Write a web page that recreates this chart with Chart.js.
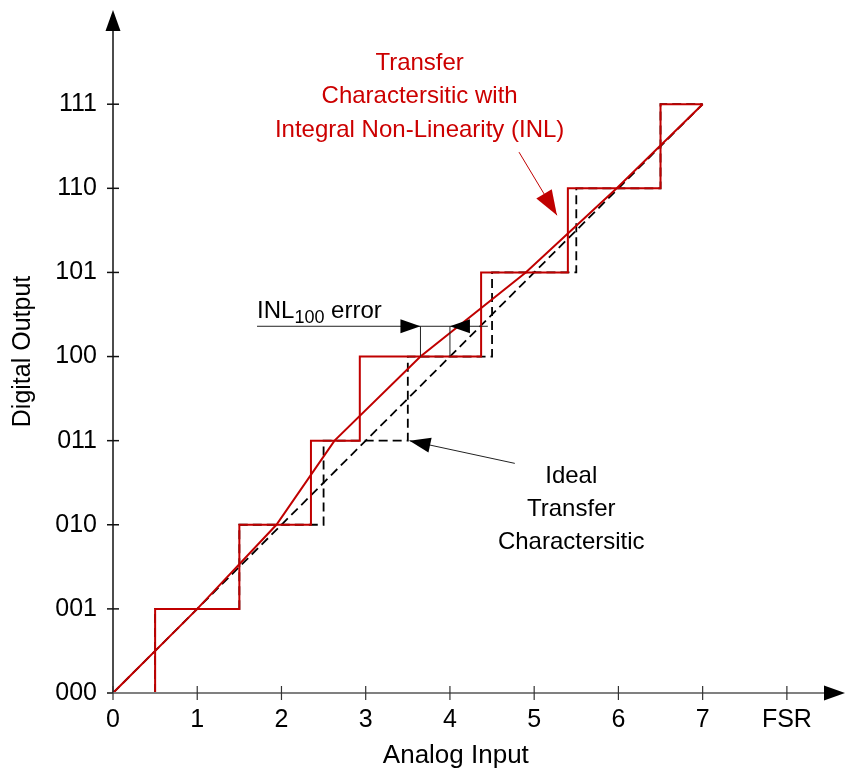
<!DOCTYPE html>
<html>
<head>
<meta charset="utf-8">
<title>INL Transfer Characteristic</title>
<script src="https://cdn.jsdelivr.net/npm/chart.js@4.4.1/dist/chart.umd.min.js"></script>
<style>
  html, body { margin: 0; padding: 0; background: #fff; }
  #wrap { width: 846px; height: 774px; }
</style>
</head>
<body>
<div id="wrap"><canvas id="inl-chart" width="846" height="774"></canvas></div>
<script>
// axis labels
const codeLabels = ['000', '001', '010', '011', '100', '101', '110', '111'];
const inputTicks = [0, 1, 2, 3, 4, 5, 6, 7, 8];
const inputLabels = ['0', '1', '2', '3', '4', '5', '6', '7', 'FSR'];
const codeTicks = [0, 1, 2, 3, 4, 5, 6, 7];

// code transition points (analog input where output steps up)
const idealTransitions = [0.5, 1.5, 2.5, 3.5, 4.5, 5.5, 6.5];
const inlTransitions = [0.5, 1.5, 2.35, 2.93, 4.37, 5.4, 6.5];
const stairEnd = 7;

// straight-line fits through step midpoints
const idealLineX = [0, 7];
const idealLineY = [0, 7];
const inlCurveX = [0, 1, 1.94, 2.63, 3.65, 4.9, 5.98, 7];
const inlCurveY = [0, 1, 2, 3, 4, 5, 6, 7];

const RED = '#c00000';
const FONT = '"Liberation Sans", Arial, sans-serif';

function staircase(trans, endX) {
  const pts = [{ x: 0, y: 0 }];
  trans.forEach((t, i) => {
    pts.push({ x: t, y: i });
    pts.push({ x: t, y: i + 1 });
  });
  pts.push({ x: endX, y: trans.length });
  return pts;
}
function zipXY(xs, ys) {
  return xs.map((x, i) => ({ x: x, y: ys[i] }));
}

function arrowHead(ctx, x1, y1, x2, y2, len, half, color) {
  const a = Math.atan2(y2 - y1, x2 - x1);
  ctx.save();
  ctx.fillStyle = color;
  ctx.beginPath();
  ctx.moveTo(x2, y2);
  ctx.lineTo(x2 - len * Math.cos(a) + half * Math.sin(a), y2 - len * Math.sin(a) - half * Math.cos(a));
  ctx.lineTo(x2 - len * Math.cos(a) - half * Math.sin(a), y2 - len * Math.sin(a) + half * Math.cos(a));
  ctx.closePath();
  ctx.fill();
  ctx.restore();
}

// axes with arrows, tick marks and the annotations
const decorPlugin = {
  id: 'decor',
  afterDatasetsDraw(chart) {
    const ctx = chart.ctx;
    const xs = chart.scales.x, ys = chart.scales.y;
    const px = v => xs.getPixelForValue(v);
    const py = v => ys.getPixelForValue(v);
    const ox = px(0), oy = py(0);
    const area = chart.chartArea;

    ctx.save();
    // y axis
    ctx.strokeStyle = '#111';
    ctx.lineWidth = 1.5;
    ctx.beginPath();
    ctx.moveTo(ox, oy);
    ctx.lineTo(ox, area.top + 18);
    ctx.stroke();
    arrowHead(ctx, ox, oy, ox, area.top, 21, 7.5, '#000');
    codeTicks.forEach(v => {
      ctx.beginPath();
      ctx.moveTo(ox - 6, py(v));
      ctx.lineTo(ox + 6, py(v));
      ctx.stroke();
    });
    // x axis
    ctx.strokeStyle = '#808080';
    ctx.lineWidth = 2;
    ctx.beginPath();
    ctx.moveTo(ox, oy);
    ctx.lineTo(area.right - 18, oy);
    ctx.stroke();
    arrowHead(ctx, ox, oy, area.right, oy, 21, 7.5, '#000');
    ctx.strokeStyle = '#333';
    ctx.lineWidth = 1.2;
    inputTicks.forEach(v => {
      ctx.beginPath();
      ctx.moveTo(px(v), oy - 7);
      ctx.lineTo(px(v), oy + 7);
      ctx.stroke();
    });

    // x axis title (centred under the plot, not under the arrow)
    ctx.fillStyle = '#000';
    ctx.textAlign = 'center';
    ctx.textBaseline = 'middle';
    ctx.font = '26px ' + FONT;
    ctx.fillText('Analog Input', px(4.07), oy + 63);

    // INL100 error marker
    const errY = 4.36;
    ctx.strokeStyle = '#222';
    ctx.lineWidth = 1;
    ctx.beginPath();
    ctx.moveTo(px(1.71), py(errY));
    ctx.lineTo(px(4.45), py(errY));
    ctx.moveTo(px(inlCurveX[4]), py(4));
    ctx.lineTo(px(inlCurveX[4]), py(errY));
    ctx.moveTo(px(4), py(4));
    ctx.lineTo(px(4), py(errY));
    ctx.stroke();
    arrowHead(ctx, px(1.71), py(errY), px(inlCurveX[4]), py(errY), 20, 7, '#000');
    arrowHead(ctx, px(4.45), py(errY), px(4), py(errY), 20, 7, '#000');

    ctx.textBaseline = 'alphabetic';
    ctx.textAlign = 'left';
    let tx = px(1.71);
    const ty = py(4.46);
    ctx.font = '24px ' + FONT;
    ctx.fillText('INL', tx, ty);
    tx += ctx.measureText('INL').width;
    ctx.font = '18px ' + FONT;
    ctx.fillText('100', tx, ty + 5);
    tx += ctx.measureText('100').width;
    ctx.font = '24px ' + FONT;
    ctx.fillText(' error', tx, ty);

    // ideal characteristic label
    ctx.strokeStyle = '#222';
    ctx.lineWidth = 1;
    ctx.beginPath();
    ctx.moveTo(px(4.77), py(2.73));
    ctx.lineTo(px(3.52), py(3.0));
    ctx.stroke();
    arrowHead(ctx, px(4.77), py(2.73), px(3.52), py(3.0), 21, 7.5, '#000');
    ctx.textAlign = 'center';
    ctx.textBaseline = 'middle';
    ctx.font = '24px ' + FONT;
    ['Ideal', 'Transfer', 'Charactersitic'].forEach((s, i) => {
      ctx.fillText(s, px(5.44), py(2.57) + i * 33);
    });

    // INL characteristic label
    ctx.strokeStyle = RED;
    ctx.lineWidth = 1;
    ctx.beginPath();
    ctx.moveTo(px(4.82), py(6.43));
    ctx.lineTo(px(5.27), py(5.68));
    ctx.stroke();
    arrowHead(ctx, px(4.82), py(6.43), px(5.27), py(5.68), 25, 9, RED);
    ctx.fillStyle = '#cc0000';
    ['Transfer', 'Charactersitic with', 'Integral Non-Linearity (INL)'].forEach((s, i) => {
      ctx.fillText(s, px(3.64), py(7.5) + 1 + i * 33.5);
    });
    ctx.restore();
  }
};

new Chart(document.getElementById('inl-chart'), {
  type: 'scatter',
  data: {
    datasets: [
      {
        label: 'Ideal line',
        data: zipXY(idealLineX, idealLineY),
        showLine: true,
        borderColor: '#000',
        borderWidth: 1.8,
        borderDash: [9, 5],
        pointRadius: 0,
        order: 4
      },
      {
        label: 'Ideal transfer',
        data: staircase(idealTransitions, stairEnd),
        showLine: true,
        borderColor: '#000',
        borderWidth: 1.8,
        borderDash: [9, 5],
        pointRadius: 0,
        order: 3
      },
      {
        label: 'INL curve',
        data: zipXY(inlCurveX, inlCurveY),
        showLine: true,
        borderColor: RED,
        borderWidth: 2,
        pointRadius: 0,
        order: 2
      },
      {
        label: 'INL transfer',
        data: staircase(inlTransitions, stairEnd),
        showLine: true,
        borderColor: RED,
        borderWidth: 2,
        pointRadius: 0,
        order: 1
      }
    ]
  },
  options: {
    responsive: false,
    animation: false,
    layout: { padding: { top: 10, right: 1, left: 0, bottom: 0 } },
    plugins: {
      legend: { display: false },
      tooltip: { enabled: false }
    },
    scales: {
      x: {
        type: 'linear',
        min: 0,
        max: 8.69,
        grid: { display: false, drawTicks: false },
        border: { display: false },
        afterBuildTicks: s => { s.ticks = inputTicks.map(v => ({ value: v })); },
        afterFit: s => { s.height = 81; s.paddingLeft = 0; s.paddingRight = 0; },
        ticks: {
          autoSkip: false,
          maxRotation: 0,
          padding: 12,
          color: '#000',
          font: { family: FONT, size: 25 },
          callback: (v) => inputLabels[inputTicks.indexOf(v)]
        },
        title: { display: false }
      },
      y: {
        type: 'linear',
        min: 0,
        max: 8.12,
        grid: { display: false, drawTicks: false },
        border: { display: false },
        afterBuildTicks: s => { s.ticks = codeTicks.map(v => ({ value: v })); },
        afterFit: s => { s.width = 113; s.paddingTop = 0; s.paddingBottom = 0; },
        ticks: {
          autoSkip: false,
          padding: 16,
          color: '#000',
          font: { family: FONT, size: 25 },
          callback: (v) => codeLabels[codeTicks.indexOf(v)]
        },
        title: {
          display: true,
          text: 'Digital Output',
          color: '#000',
          font: { family: FONT, size: 25 },
          padding: { top: 8, bottom: 0 }
        }
      }
    }
  },
  plugins: [decorPlugin]
});
</script>
</body>
</html>
